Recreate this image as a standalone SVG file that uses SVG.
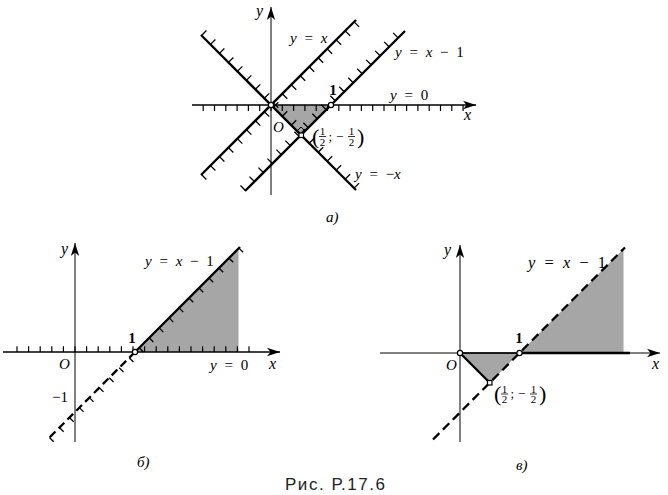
<svg xmlns="http://www.w3.org/2000/svg" width="668" height="495" viewBox="0 0 668 495">
<defs>
<marker id="arr" viewBox="-14 -5 15 10" refX="0" refY="0" markerWidth="15" markerHeight="10" markerUnits="userSpaceOnUse" orient="auto">
<path d="M0,0 L-13,-4.2 L-9.5,0 L-13,4.2 Z" fill="#000"/>
</marker>
<style>
.ax{stroke:#000;stroke-width:1;fill:none}
.bd{stroke:#000;stroke-width:2.3;fill:none}
.tk{stroke:#000;fill:none}
.sh{fill:#a6a6a6;stroke:none}
.pt{fill:#fff;stroke:#000;stroke-width:1.2}
.m{font-family:"Liberation Serif","DejaVu Serif",serif;font-size:15px;fill:#000}
.eq{word-spacing:4px}
.i{font-style:italic}
.b{font-weight:bold}
.big{font-size:22px}
.sm{font-size:11px}
.md{font-size:13px}
.ax-l{font-size:16px}
.fb{stroke:#000;stroke-width:0.8}
.cap{font-family:"Liberation Sans",Arial,sans-serif;font-size:17px;fill:#222}
</style>
</defs>
<rect width="668" height="495" fill="#fff"/>

<!-- Panel a -->
<g id="panel-a">
<polygon class="sh" points="271,105 331,105 301,135"/>
<g id="a-axes">
<line class="ax" x1="192" y1="105" x2="476" y2="105" style="stroke-width:1.6" marker-end="url(#arr)"/>
<line class="ax" x1="271" y1="195" x2="271" y2="7" marker-end="url(#arr)"/>
<line class="tk" x1="202.6" y1="108" x2="464" y2="108" style="stroke-width:6" stroke-dasharray="1.2 10.1"/>
</g>
<g id="a-lines">
<line class="bd" x1="201" y1="175" x2="356" y2="20"/>
<line class="tk" x1="203.5" y1="177.5" x2="358.5" y2="22.5" style="stroke-width:7" stroke-dasharray="1.3 11.4"/>
<line class="bd" x1="201" y1="35" x2="356" y2="190"/>
<line class="tk" x1="203.5" y1="32.5" x2="358.5" y2="187.5" style="stroke-width:7" stroke-dasharray="1.3 11.4"/>
<line class="bd" x1="245" y1="191" x2="405" y2="31"/>
<line class="tk" x1="242.5" y1="188.5" x2="402.5" y2="28.5" style="stroke-width:7" stroke-dasharray="1.3 11.4"/>
</g>
<path d="M297,131 L301,127 L305,131" fill="none" stroke="#000" stroke-width="1"/>
<circle class="pt" cx="271" cy="105" r="2.6"/>
<circle class="pt" cx="331" cy="105" r="2.6"/>
<rect class="pt" x="299" y="133" width="4.5" height="4.5"/>
<g id="a-labels">
<text class="m i ax-l" x="256" y="16">y</text>
<text class="m eq" x="290" y="43"><tspan class="i">y</tspan> = <tspan class="i">x</tspan></text>
<text class="m eq" x="395" y="57"><tspan class="i">y</tspan> = <tspan class="i">x</tspan> − 1</text>
<text class="m b" x="333" y="95" text-anchor="middle">1</text>
<text class="m eq" x="390" y="100"><tspan class="i">y</tspan> = 0</text>
<text class="m i ax-l" x="464" y="120">x</text>
<text class="m i" x="273" y="132">O</text>
<text class="m eq" x="355" y="179"><tspan class="i">y</tspan> = −<tspan class="i">x</tspan></text>
<g id="frac-a" transform="translate(312,136.5)">
<text class="m big" x="0" y="7">(</text>
<text class="m sm" x="10.5" y="-1.5" text-anchor="middle">1</text>
<line class="fb" x1="7" y1="0" x2="14" y2="0"/>
<text class="m sm" x="10.5" y="9" text-anchor="middle">2</text>
<text class="m md" x="16.5" y="4">;</text>
<text class="m md" x="24" y="4.2">−</text>
<text class="m sm" x="39.5" y="-1.5" text-anchor="middle">1</text>
<line class="fb" x1="36" y1="0" x2="43" y2="0"/>
<text class="m sm" x="39.5" y="9" text-anchor="middle">2</text>
<text class="m big" x="45" y="7">)</text>
</g>
<text class="m i" x="326" y="222">а)</text>
</g>
</g>

<!-- Panel b -->
<g id="panel-b">
<polygon class="sh" points="135,352 238.5,248.5 238.5,352"/>
<g id="b-axes">
<line class="ax" x1="3" y1="352" x2="280" y2="352" style="stroke-width:1.6" marker-end="url(#arr)"/>
<line class="ax" x1="75" y1="442" x2="75" y2="243" marker-end="url(#arr)"/>
<line class="tk" x1="16.4" y1="349.1" x2="254" y2="349.1" style="stroke-width:5.8" stroke-dasharray="1.2 10.4"/>
</g>
<g id="b-lines">
<line class="bd" x1="135" y1="352" x2="240" y2="247"/>
<line class="bd" x1="135" y1="352" x2="49" y2="438" stroke-dasharray="8 4.5"/>
<line class="tk" x1="51.1" y1="440.1" x2="242.1" y2="249.1" style="stroke-width:6" stroke-dasharray="1.3 12.8"/>
</g>
<circle class="pt" cx="135" cy="352" r="2.6"/>
<g id="b-labels">
<text class="m i ax-l" x="61" y="254">y</text>
<text class="m eq" x="145" y="266"><tspan class="i">y</tspan> = <tspan class="i">x</tspan> − 1</text>
<text class="m b" x="132" y="343" text-anchor="middle">1</text>
<text class="m i" x="59" y="369">O</text>
<text class="m" x="52" y="401.5">−1</text>
<text class="m eq" x="210" y="369.5"><tspan class="i">y</tspan> = 0</text>
<text class="m i ax-l" x="269" y="369">x</text>
<text class="m i" x="137" y="467">б)</text>
</g>
</g>

<!-- Panel c -->
<g id="panel-c">
<polygon class="sh" points="460,353 519.5,353 489.75,382.75"/>
<polygon class="sh" points="519.5,353 623.5,249 623.5,353"/>
<g id="c-axes">
<line class="ax" x1="380" y1="353" x2="660" y2="353" marker-end="url(#arr)"/>
<line class="ax" x1="460" y1="442" x2="460" y2="245" marker-end="url(#arr)"/>
</g>
<g id="c-lines">
<line class="bd" x1="460" y1="353" x2="519.5" y2="353" style="stroke-width:1.6"/>
<line class="bd" x1="519.5" y1="353" x2="630" y2="353"/>
<line class="bd" x1="460" y1="353" x2="489.75" y2="382.75"/>
<line class="bd" x1="433" y1="439.5" x2="625" y2="247.5" stroke-dasharray="9 5"/>
</g>
<circle class="pt" cx="460" cy="353" r="2.6"/>
<circle class="pt" cx="519.5" cy="353" r="2.6"/>
<rect class="pt" x="487.5" y="380.5" width="4.5" height="4.5"/>
<g id="c-labels">
<text class="m i ax-l" x="444" y="255">y</text>
<text class="m eq" x="528" y="268" style="font-size:16.5px;word-spacing:5px"><tspan class="i">y</tspan> = <tspan class="i">x</tspan> − 1</text>
<text class="m b" x="519" y="342.5" text-anchor="middle">1</text>
<text class="m i" x="446" y="370">O</text>
<text class="m i ax-l" x="652" y="369">x</text>
<g id="frac-c" transform="translate(494,394)">
<text class="m big" x="0" y="7">(</text>
<text class="m sm" x="10.5" y="-1.5" text-anchor="middle">1</text>
<line class="fb" x1="7" y1="0" x2="14" y2="0"/>
<text class="m sm" x="10.5" y="9" text-anchor="middle">2</text>
<text class="m md" x="16.5" y="4">;</text>
<text class="m md" x="24" y="4.2">−</text>
<text class="m sm" x="39.5" y="-1.5" text-anchor="middle">1</text>
<line class="fb" x1="36" y1="0" x2="43" y2="0"/>
<text class="m sm" x="39.5" y="9" text-anchor="middle">2</text>
<text class="m big" x="45" y="7">)</text>
</g>
<text class="m i" x="516" y="470">в)</text>
</g>
</g>

<text id="caption" class="cap" x="285" y="490" textLength="100">Рис. Р.17.6</text>
</svg>
